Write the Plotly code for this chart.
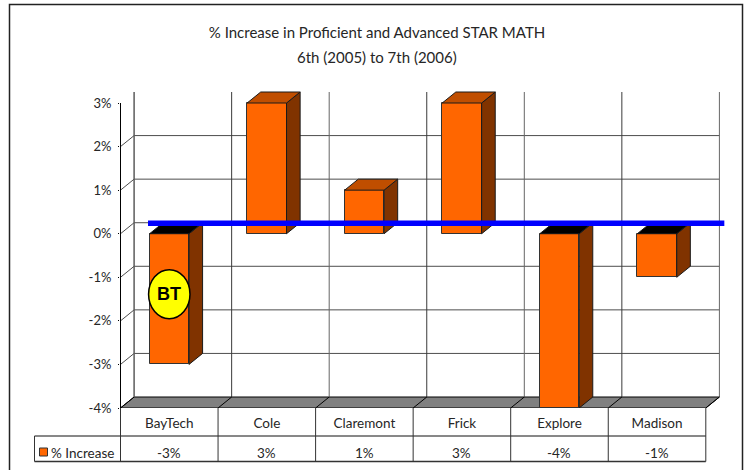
import plotly.graph_objects as go

categories = ["BayTech", "Cole", "Claremont", "Frick", "Explore", "Madison"]
values = [-3, 3, 1, 3, -4, -1]
value_labels = ["-3%", "3%", "1%", "3%", "-4%", "-1%"]
y_ticks = [-4, -3, -2, -1, 0, 1, 2, 3]
y_tick_labels = ["-4%", "-3%", "-2%", "-1%", "0%", "1%", "2%", "3%"]
series_name = "% Increase"
title_lines = ["% Increase in Proficient and Advanced STAR MATH", "6th (2005) to 7th (2006)"]
highlight_index = 0
highlight_label = "BT"
reference_level = 0.24

W, H = 749, 470
L, R, T, B = 120, 730, 85, 408
CAT = 97.55
UNIT = 43.57
X0 = 120.5
DX = 13.6 / CAT   # depth in category units
DY = 11 / UNIT    # depth in value units
BAR_W = 0.404
FONT = "Lato"
TXT = "#262626"
GRID = "#4d4d4d"

xr = [(L - X0) / CAT, (R - X0) / CAT]
yr = [-4, -4 + (B - T) / UNIT]
px = lambda v: (v - L) / (R - L)
py = lambda v: (B - v) / (B - T)
n = len(categories)
ymin, ymax = y_ticks[0], y_ticks[-1]

shapes = []
def line(x0, y0, x1, y1, color=GRID, w=1, ref="x", layer="below"):
    shapes.append(dict(type="line", xref=ref, yref="y" if ref == "x" else "paper",
                       x0=x0, y0=y0, x1=x1, y1=y1, layer=layer,
                       line=dict(color=color, width=w)))

# floor
shapes.append(dict(type="path", xref="x", yref="y", layer="below",
                   path=f"M0,{ymin} L{DX},{ymin+DY} L{n+DX},{ymin+DY} L{n},{ymin} Z",
                   fillcolor="#808080", line=dict(color="#000000", width=1)))
# back wall grid
for t in y_ticks[1:-1]:
    line(DX, t + DY, n + DX, t + DY)
for i in range(n + 1):
    line(i + DX, ymin + DY, i + DX, ymax + DY, color="#3a3a3a" if i % 2 else "#666666")
    line(i, ymin, i + DX, ymin + DY, color="#000000")
# side wall
for t in y_ticks[1:-1]:
    line(0, t, DX, t + DY)
line(0, ymin, 0, ymax, color="#000000")
line(DX, ymin + DY, DX, ymax + DY, color="#555555")

# chart frame (paper coordinates)
shapes.append(dict(type="rect", xref="paper", yref="paper", layer="below",
                   x0=px(9.5), x1=px(742.5), y0=py(480), y1=py(4.5),
                   line=dict(color="#222222", width=1.5)))

# data table
tl, tm, tb = px(34.5), py(436), py(461.5)
top = py(408)
line(tl, tm, px(X0 + n * CAT), tm, "#111111", ref="paper", layer="above")
line(tl, tb, px(X0 + n * CAT), tb, "#333333", 1.5, ref="paper", layer="above")
line(tl, tm, tl, tb, "#333333", ref="paper", layer="above")
for i in range(n + 1):
    xp = px(X0 + i * CAT)
    line(xp, top, xp, tb, "#333333", ref="paper", layer="above")
# legend key
shapes.append(dict(type="rect", xref="paper", yref="paper", layer="above",
                   x0=px(39.5), x1=px(47.5), y0=py(456), y1=py(448),
                   fillcolor="#FF6600", line=dict(color="#333333", width=1)))
# highlight ellipse
hx = highlight_index + 0.5
hy = values[highlight_index] * 0.4625
shapes.append(dict(type="circle", xref="x", yref="y", layer="above",
                   x0=hx - 20.7 / CAT, x1=hx + 20.7 / CAT,
                   y0=hy - 24.5 / UNIT, y1=hy + 24.5 / UNIT,
                   fillcolor="#FFFF00", line=dict(color="#000000", width=1.5)))

fig = go.Figure()
centers = [i + 0.5 for i in range(n)]
fig.add_trace(go.Bar(x=centers, y=values, width=BAR_W, name=series_name,
                     marker=dict(color="#FF6600", line=dict(color="#333333", width=1)),
                     hoverinfo="skip", showlegend=False))

def poly(xs, ys, color):
    fig.add_trace(go.Scatter(x=xs, y=ys, mode="lines", fill="toself", fillcolor=color,
                             line=dict(color="#1a1a1a", width=1), hoverinfo="skip",
                             showlegend=False))

for c, v in zip(centers, values):
    x0, x1 = c - BAR_W / 2, c + BAR_W / 2
    top_v = max(v, 0)
    low_v = min(v, 0)
    poly([x1, x1 + DX, x1 + DX, x1, x1], [low_v, low_v + DY, top_v + DY, top_v, low_v], "#803300")
    poly([x0, x0 + DX, x1 + DX, x1, x0], [top_v, top_v + DY, top_v + DY, top_v, top_v],
         "#C04E00" if v > 0 else "#000000")

fig.add_trace(go.Scatter(x=[0.282, 6.19], y=[reference_level, reference_level], mode="lines",
                         line=dict(color="#0000FF", width=5.5), hoverinfo="skip", showlegend=False))

annotations = [
    dict(x=px(377), xref="paper", xanchor="center", y=py(57), yref="paper", yanchor="middle",
         text=title_lines[1], showarrow=False, font=dict(family=FONT, size=15, color=TXT)),
    dict(x=px(115.5), xref="paper", xanchor="right", y=py(453), yref="paper", yanchor="middle",
         text=series_name, showarrow=False, font=dict(family=FONT, size=13.5, color=TXT)),
    dict(x=hx, xref="x", y=hy, yref="y", text=f"<b>{highlight_label}</b>", showarrow=False,
         font=dict(family="Liberation Sans", size=18, color="#000000")),
]
for c, lab in zip(centers, value_labels):
    annotations.append(dict(x=c, xref="x", y=py(453), yref="paper", yanchor="middle", text=lab,
                            showarrow=False, font=dict(family=FONT, size=13.5, color=TXT)))

fig.update_layout(
    width=W, height=H, autosize=False,
    margin=dict(l=L, r=W - R, t=T, b=H - B, pad=0),
    paper_bgcolor="#FFFFFF", plot_bgcolor="rgba(0,0,0,0)",
    title=dict(text=title_lines[0], x=377 / W, xanchor="center",
               y=1 - 33 / H, yanchor="middle", font=dict(family=FONT, size=15, color=TXT)),
    xaxis=dict(range=xr, tickmode="array", tickvals=centers, ticktext=categories, showgrid=False,
               zeroline=False, showline=False, ticks="", ticklabelstandoff=5,
               tickfont=dict(family=FONT, size=13.5, color=TXT), fixedrange=True),
    yaxis=dict(range=yr, tickmode="array", tickvals=y_ticks, ticktext=y_tick_labels, showgrid=False,
               zeroline=False, showline=False, ticks="outside", ticklen=1, tickcolor="#000000",
               ticklabelstandoff=4, tickfont=dict(family=FONT, size=13, color=TXT), fixedrange=True),
    shapes=shapes, annotations=annotations, bargap=0,
)
fig.write_html("out.html", config=dict(displayModeBar=False, responsive=False),
               post_script="document.body.style.margin='0';document.documentElement.style.overflow='hidden';")
